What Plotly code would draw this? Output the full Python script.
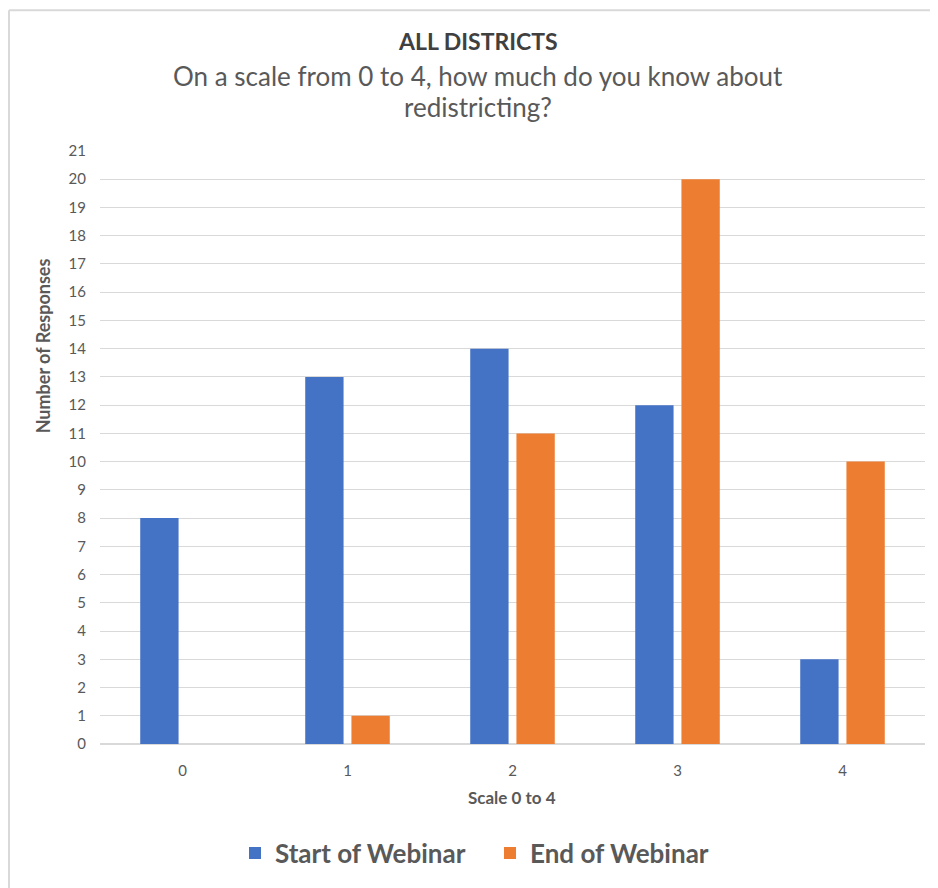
import plotly.graph_objects as go

categories = ["0", "1", "2", "3", "4"]
start_values = [8, 13, 14, 12, 3]
end_values = [0, 1, 11, 20, 10]
y_ticks = list(range(0, 22))

OFF = 8  # page body margin
W, H = 930, 880
L, R, T, B = 92, 13, 143, 139
pw = W - L - R
ph = H - T - B

def px(x):
    return (x - OFF - L) / pw

def py(y):
    return (H - B - (y - OFF)) / ph

FONT = "Lato"
GRAY = "#595959"

fig = go.Figure()
fig.add_trace(go.Bar(x=categories, y=start_values, name="Start of Webinar",
                     marker=dict(color="#4472C4", line=dict(width=0))))
fig.add_trace(go.Bar(x=categories, y=end_values, name="End of Webinar",
                     marker=dict(color="#ED7D31", line=dict(width=0))))

fig.update_layout(
    width=W, height=H,
    margin=dict(l=L, r=R, t=T, b=B),
    paper_bgcolor="white", plot_bgcolor="white",
    barmode="group", bargap=0.44, bargroupgap=0.17,
    font=dict(family=FONT, color=GRAY),
    showlegend=True,
    legend=dict(orientation="h", x=px(490), xanchor="center", y=py(859), yanchor="middle",
                font=dict(family=FONT, size=26, color=GRAY, weight="bold"),
                itemwidth=30, itemsizing="constant", traceorder="normal",
                entrywidth=210),
    xaxis=dict(type="category", showgrid=False, showline=False, ticks="",
               tickfont=dict(size=15, color=GRAY), ticklabelstandoff=16),
    yaxis=dict(range=[0, 21], tickvals=y_ticks, showgrid=True, gridcolor="#d9d9d9", gridwidth=1,
               zeroline=True, zerolinecolor="#d9d9d9", zerolinewidth=1.5, showline=False, ticks="",
               tickfont=dict(size=15, color=GRAY), ticklabelstandoff=13),
)

annotations = [
    dict(text="<b>ALL DISTRICTS</b>", x=px(478), y=py(40), font=dict(size=23, color="#404040")),
    dict(text="On a scale from 0 to 4, how much do you know about", x=px(478), y=py(75),
         font=dict(size=26, color=GRAY)),
    dict(text="redistricting?", x=px(478), y=py(107), font=dict(size=26, color=GRAY)),
    dict(text="<b>Scale 0 to 4</b>", x=px(512), y=py(803), font=dict(size=17, color=GRAY)),
    dict(text="<b>Number of Responses</b>", x=px(43), y=py(348), textangle=-90,
         font=dict(size=18, color=GRAY)),
]
for a in annotations:
    a.update(xref="paper", yref="paper", showarrow=False, xanchor="center", yanchor="middle",
             font=dict(family=FONT, **a["font"]))
    fig.add_annotation(**a)

fig.add_shape(type="line", xref="paper", yref="paper", x0=px(9), x1=px(950), y0=py(9), y1=py(9),
              line=dict(color="#d9d9d9", width=2))
fig.add_shape(type="line", xref="paper", yref="paper", x0=px(9), x1=px(9), y0=py(9), y1=py(900),
              line=dict(color="#d9d9d9", width=2))

fig.write_html("out.html")
